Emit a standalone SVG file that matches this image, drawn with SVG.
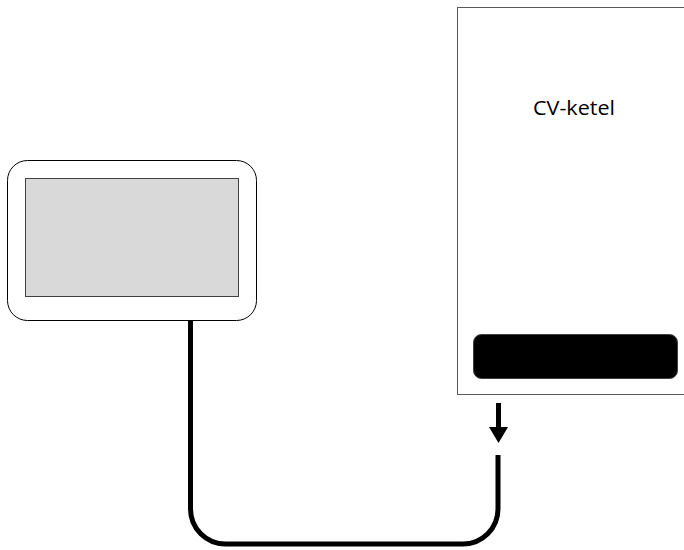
<svg xmlns="http://www.w3.org/2000/svg" width="684" height="550" viewBox="0 0 684 550">
<style>
.cable{fill:none;stroke:#000;stroke-width:5}
.lbl{font-family:"Open Sans","Liberation Sans",sans-serif;font-size:20px;fill:#000}
</style>
<rect width="684" height="550" fill="#fff"/>
<g id="connectors">
<path class="cable" d="M190.5,321 V509 A35,35 0 0 0 225.5,544 H463 A35,35 0 0 0 498,509 V455"/>
<g id="arrow">
<line x1="498.5" y1="403" x2="498.5" y2="430" stroke="#000" stroke-width="5"/>
<polygon points="489,427 508,427 498.5,443" fill="#000"/>
</g>
</g>
<g id="tablet">
<rect x="7.5" y="160.5" width="249" height="160" rx="20" fill="#fff" stroke="#000" stroke-width="1"/>
<rect x="25.5" y="178.5" width="213" height="118" fill="#d9d9d9" stroke="#404040" stroke-width="1"/>
</g>
<g id="cv-ketel">
<rect x="457.5" y="7.5" width="240" height="387" fill="#fff" stroke="#595959" stroke-width="1"/>
<text class="lbl" x="533" y="115" textLength="82" lengthAdjust="spacingAndGlyphs">CV-ketel</text>
<rect x="473.5" y="334.5" width="204" height="44" rx="8" fill="#000" stroke="#404040" stroke-width="1"/>
</g>
</svg>
